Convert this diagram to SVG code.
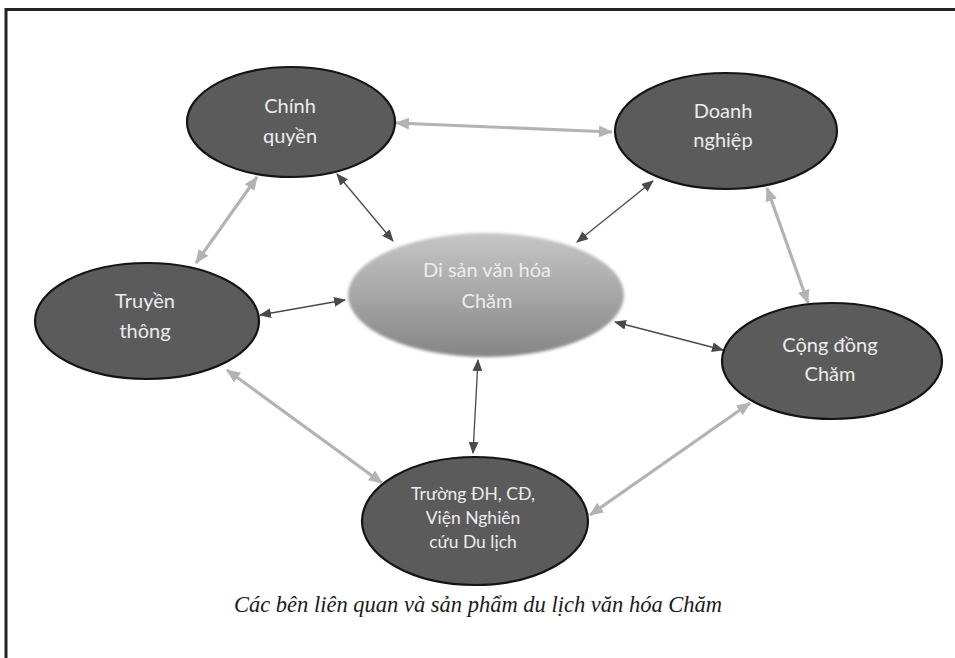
<svg xmlns="http://www.w3.org/2000/svg" width="955" height="658" viewBox="0 0 955 658">
  <defs>
    <style>
      .node { fill: #5b5b5b; stroke: #141414; stroke-width: 2.2; }
      .lbl { font-family: Lato, "Open Sans", "Liberation Sans", sans-serif; font-size: 20px; fill: #ececec; text-anchor: middle; }
      .lbl-s { font-size: 17.5px; }
      .thin { stroke: #4a4a4a; stroke-width: 1.3; fill: none; marker-start: url(#ah-thin); marker-end: url(#ah-thin); }
      .thick { stroke: #b3b3b3; stroke-width: 3.2; fill: none; marker-start: url(#ah-thick); marker-end: url(#ah-thick); }
      .caption { font-family: "Liberation Serif", "Times New Roman", serif; font-style: italic; font-size: 22.5px; fill: #1a1a1a; text-anchor: middle; }
    </style>
    <marker id="ah-thin" viewBox="0 0 12 10" refX="11" refY="5" markerWidth="12" markerHeight="10" markerUnits="userSpaceOnUse" orient="auto-start-reverse">
      <path d="M0,0 L12,5 L0,10 Z" fill="#4a4a4a"/>
    </marker>
    <marker id="ah-thick" viewBox="0 0 14 12" refX="13" refY="6" markerWidth="14" markerHeight="12" markerUnits="userSpaceOnUse" orient="auto-start-reverse">
      <path d="M0,0 L14,6 L0,12 Z" fill="#b3b3b3"/>
    </marker>
    <linearGradient id="centerGrad" x1="0" y1="0" x2="0" y2="1">
      <stop offset="0" stop-color="#c6c6c6"/>
      <stop offset="0.5" stop-color="#a6a6a6"/>
      <stop offset="1" stop-color="#858585"/>
    </linearGradient>
    <filter id="soft" x="-10%" y="-10%" width="120%" height="120%">
      <feGaussianBlur stdDeviation="1.6"/>
    </filter>
  </defs>

  <rect x="0" y="0" width="955" height="658" fill="#ffffff"/>
  <!-- frame -->
  <path d="M6,658 L6,9.5 L955,9.5" fill="none" stroke="#232323" stroke-width="3"/>

  <g id="connectors">
    <line class="thin" x1="337" y1="174" x2="393" y2="241"/>
    <line class="thin" x1="653" y1="181" x2="577" y2="242"/>
    <line class="thin" x1="260" y1="315" x2="345" y2="300"/>
    <line class="thin" x1="615" y1="322" x2="723" y2="350"/>
    <line class="thin" x1="478" y1="360" x2="473" y2="453"/>
    <line class="thick" x1="396" y1="123" x2="612" y2="132"/>
    <line class="thick" x1="257" y1="177" x2="196" y2="263"/>
    <line class="thick" x1="767" y1="188" x2="808" y2="303"/>
    <line class="thick" x1="227" y1="370" x2="382" y2="483"/>
    <line class="thick" x1="750" y1="403" x2="590" y2="515"/>
  </g>

  <g id="node-center">
    <ellipse cx="486" cy="295" rx="138" ry="62" fill="url(#centerGrad)" filter="url(#soft)"/>
    <text class="lbl" x="487" y="277">Di sản văn hóa</text>
    <text class="lbl" x="487" y="308">Chăm</text>
  </g>

  <g id="node-chinh-quyen">
    <ellipse class="node" cx="291" cy="122" rx="104" ry="55"/>
    <text class="lbl" x="290" y="113">Chính</text>
    <text class="lbl" x="290" y="143">quyền</text>
  </g>

  <g id="node-doanh-nghiep">
    <ellipse class="node" cx="726" cy="131" rx="111" ry="58"/>
    <text class="lbl" x="723" y="118">Doanh</text>
    <text class="lbl" x="723" y="147">nghiệp</text>
  </g>

  <g id="node-truyen-thong">
    <ellipse class="node" cx="147" cy="321" rx="112" ry="58"/>
    <text class="lbl" x="145" y="308">Truyền</text>
    <text class="lbl" x="145" y="338">thông</text>
  </g>

  <g id="node-cong-dong">
    <ellipse class="node" cx="832" cy="361" rx="110" ry="58"/>
    <text class="lbl" x="830" y="352">Cộng đồng</text>
    <text class="lbl" x="830" y="381">Chăm</text>
  </g>

  <g id="node-truong">
    <ellipse class="node" cx="475" cy="521" rx="113" ry="64"/>
    <text class="lbl lbl-s" x="473" y="500">Trường ĐH, CĐ,</text>
    <text class="lbl lbl-s" x="473" y="524">Viện Nghiên</text>
    <text class="lbl lbl-s" x="473" y="548">cứu Du lịch</text>
  </g>

  <text class="caption" x="478" y="612">Các bên liên quan và sản phẩm du lịch văn hóa Chăm</text>
</svg>
